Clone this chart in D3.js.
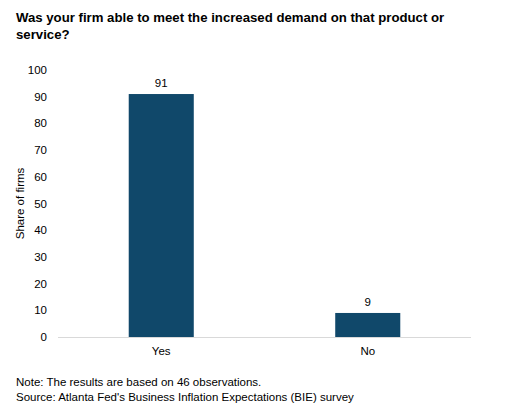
<!DOCTYPE html>
<html>
<head>
<meta charset="utf-8">
<script src="https://cdn.jsdelivr.net/npm/d3@7"></script>
<style>
  body { margin: 0; background: #fff; }
  text { font-family: "Liberation Sans", Arial, sans-serif; fill: #000; }
</style>
</head>
<body>
<svg id="chart" width="527" height="415"></svg>
<script>
// data
var categories = ["Yes", "No"];
var shares = [91, 9];
var yTicks = [0, 10, 20, 30, 40, 50, 60, 70, 80, 90, 100];

var svg = d3.select("#chart");
var plotLeft = 58, plotRight = 471, plotTop = 70, plotBottom = 337;

var x = d3.scaleBand()
    .domain(categories)
    .range([plotLeft, plotRight])
    .paddingInner(0.685)
    .paddingOuter(0.3425);

var y = d3.scaleLinear()
    .domain([0, 100])
    .range([plotBottom, plotTop]);

// title
var title = svg.append("text")
    .attr("x", 16)
    .attr("y", 22)
    .style("font-size", "13.2px")
    .style("font-weight", "bold");
title.append("tspan").attr("x", 16).attr("dy", 0)
    .text("Was your firm able to meet the increased demand on that product or");
title.append("tspan").attr("x", 16).attr("dy", 17)
    .text("service?");

// y axis labels
svg.append("g").selectAll("text")
    .data(yTicks)
    .enter().append("text")
    .attr("x", 47)
    .attr("y", d => y(d) + 4)
    .attr("text-anchor", "end")
    .style("font-size", "11.5px")
    .text(d => d);

svg.append("text")
    .attr("transform", "translate(24," + ((plotTop + plotBottom) / 2) + ") rotate(-90)")
    .attr("text-anchor", "middle")
    .style("font-size", "11.5px")
    .text("Share of firms");

// bars
svg.append("g").selectAll("rect")
    .data(shares)
    .enter().append("rect")
    .attr("x", (d, i) => x(categories[i]))
    .attr("width", x.bandwidth())
    .attr("y", d => y(d))
    .attr("height", d => y(0) - y(d))
    .attr("fill", "#10486a");

// value labels
svg.append("g").selectAll("text")
    .data(shares)
    .enter().append("text")
    .attr("x", (d, i) => x(categories[i]) + x.bandwidth() / 2)
    .attr("y", d => y(d) - 7)
    .attr("text-anchor", "middle")
    .style("font-size", "11.5px")
    .text(d => d);

// baseline
svg.append("line")
    .attr("x1", plotLeft).attr("x2", plotRight)
    .attr("y1", plotBottom + 0.5).attr("y2", plotBottom + 0.5)
    .attr("stroke", "#d9d9d9")
    .attr("stroke-width", 1);

// category labels
svg.append("g").selectAll("text")
    .data(categories)
    .enter().append("text")
    .attr("x", d => x(d) + x.bandwidth() / 2)
    .attr("y", 355)
    .attr("text-anchor", "middle")
    .style("font-size", "11.5px")
    .text(d => d);

// notes
svg.append("text").attr("x", 16).attr("y", 386)
    .style("font-size", "11.5px")
    .text("Note: The results are based on 46 observations.");
svg.append("text").attr("x", 16).attr("y", 401)
    .style("font-size", "11.5px")
    .text("Source: Atlanta Fed's Business Inflation Expectations (BIE) survey");
</script>
</body>
</html>
